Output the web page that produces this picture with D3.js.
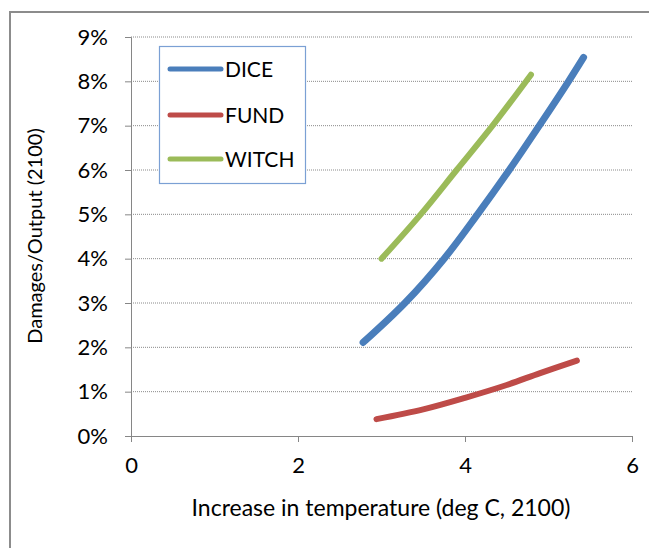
<!DOCTYPE html>
<html>
<head>
<meta charset="utf-8">
<script src="https://cdn.jsdelivr.net/npm/d3@7"></script>
<style>
  body { margin: 0; background: #fff; }
  svg text { font-family: Lato, "Liberation Sans", sans-serif; fill: #000; }
</style>
</head>
<body>
<div id="chart"></div>
<script>
// values: x = deg C, y = damages as % of output
const dice = [[2.78, 2.11], [3.28, 3.0], [3.75, 4.0], [4.15, 5.0], [4.53, 6.0], [4.89, 7.0], [5.24, 8.0], [5.42, 8.54]];
const fund = [[2.94, 0.38], [3.5, 0.6], [4.0, 0.86], [4.5, 1.15], [4.9, 1.42], [5.34, 1.7]];
const witch = [[3.0, 4.0], [3.47, 5.0], [3.9, 6.0], [4.33, 7.0], [4.79, 8.15]];
const seriesNames = ['DICE', 'FUND', 'WITCH'];
const seriesColors = ['#4a7ebb', '#be4b48', '#9bbb59'];
const xTicks = [0, 2, 4, 6];
const yTicks = [0, 1, 2, 3, 4, 5, 6, 7, 8, 9];

const width = 649, height = 548;
const svg = d3.select('#chart').append('svg')
    .attr('width', width)
    .attr('height', height);

// outer chart frame (right / bottom edges are off the picture)
svg.append('rect')
    .attr('x', 10).attr('y', 12)
    .attr('width', 700).attr('height', 600)
    .attr('fill', 'none')
    .attr('stroke', '#8c8c8c')
    .attr('stroke-width', 2);

const x = d3.scaleLinear().domain([0, 6]).range([131, 632]);
const y = d3.scaleLinear().domain([0, 9]).range([436, 37]);

// gridlines
svg.append('g')
    .selectAll('line')
    .data(yTicks.filter(d => d > 0))
    .join('line')
    .attr('x1', x(0)).attr('x2', x(6))
    .attr('y1', d => y(d)).attr('y2', d => y(d))
    .attr('stroke', '#8a8a8a')
    .attr('stroke-width', 1)
    .attr('stroke-dasharray', '1,1');

const xAxis = svg.append('g')
    .attr('transform', `translate(0,${y(0)})`)
    .call(d3.axisBottom(x).tickValues(xTicks).tickSize(6).tickPadding(15).tickFormat(d3.format('d')));
const yAxis = svg.append('g')
    .attr('transform', `translate(${x(0)},0)`)
    .call(d3.axisLeft(y).tickValues(yTicks).tickSize(6).tickPadding(17).tickFormat(d => d + '%'));

[xAxis, yAxis].forEach(g => {
    g.select('.domain').attr('stroke', '#868686');
    g.selectAll('.tick line').attr('stroke', '#868686');
    g.selectAll('.tick text').style('font-size', '22px').attr('fill', '#000');
});

// axis titles
svg.append('text')
    .attr('x', 381).attr('y', 516)
    .attr('text-anchor', 'middle')
    .style('font-size', '23px')
    .text('Increase in temperature (deg C, 2100)');
svg.append('text')
    .attr('transform', 'translate(42,236) rotate(-90)')
    .attr('text-anchor', 'middle')
    .style('font-size', '20px')
    .text('Damages/Output (2100)');

// series
const line = d3.line()
    .x(d => x(d[0]))
    .y(d => y(d[1]))
    .curve(d3.curveCatmullRom.alpha(0.5));

const allSeries = [dice, fund, witch];
svg.append('g')
    .selectAll('path')
    .data(allSeries)
    .join('path')
    .attr('d', line)
    .attr('fill', 'none')
    .attr('stroke', (d, i) => seriesColors[i])
    .attr('stroke-width', (d, i) => i === 0 ? 7 : 6)
    .attr('stroke-linecap', 'round')
    .attr('stroke-linejoin', 'round');

// legend
const legend = svg.append('g');
legend.append('rect')
    .attr('x', 159.5).attr('y', 46.5)
    .attr('width', 146).attr('height', 137)
    .attr('fill', '#fff')
    .attr('stroke', '#7ba0d4')
    .attr('stroke-width', 1.2);
const legendY = [69, 115, 159];
seriesNames.forEach((name, i) => {
    legend.append('line')
        .attr('x1', 170).attr('x2', 221)
        .attr('y1', legendY[i]).attr('y2', legendY[i])
        .attr('stroke', seriesColors[i])
        .attr('stroke-width', 5)
        .attr('stroke-linecap', 'round');
    legend.append('text')
        .attr('x', 225).attr('y', legendY[i] + 8)
        .style('font-size', '21px')
        .text(name);
});
</script>
</body>
</html>
